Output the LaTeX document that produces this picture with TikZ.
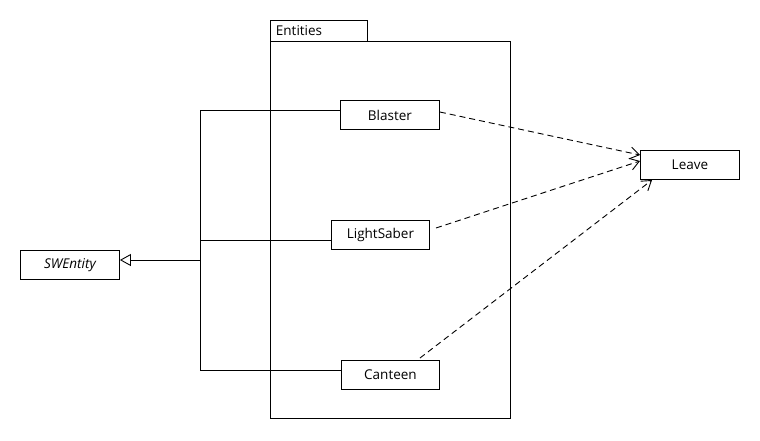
\documentclass[tikz,border=0pt]{standalone}
\usepackage{fontspec}
\setmainfont{Open Sans}
\usetikzlibrary{arrows.meta}
\begin{document}
\begin{tikzpicture}[x=1pt,y=-1pt,
  cls/.style={draw,line width=0.9pt,minimum width=99pt,minimum height=29pt,inner sep=0pt,font=\fontsize{13.5}{15}\selectfont,anchor=north west},
  pkg/.style={draw,line width=0.9pt},
  link/.style={line width=0.9pt},
  dep/.style={line width=0.9pt,dash pattern=on 6pt off 4pt,-{Straight Barb[length=9pt,width=12pt]}}]
\useasboundingbox (0,0) rectangle (760,440);
% package
\draw[pkg] (270,41) rectangle (510,418);
\node[pkg,anchor=north west,minimum width=97pt,minimum height=21pt,inner sep=0pt,font=\fontsize{13.5}{15}\selectfont,text width=92pt,align=left] (tab) at (270,20) {\hspace*{3pt}Entities};
% classes
\node[cls,minimum width=99pt] (sw) at (20,250) {\itshape SWEntity};
\node[cls,minimum width=99pt] (blaster) at (340,100) {Blaster};
\node[cls,minimum width=98pt] (saber) at (331,220) {LightSaber};
\node[cls,minimum width=98pt] (canteen) at (341,360) {Canteen};
\node[cls,minimum width=99pt] (leave) at (640,150) {Leave};
% generalization tree
\coordinate (j) at (200,260);
\coordinate (jt) at (200,110);
\coordinate (jb) at (200,370);
\draw[link] (jt) -- (jb);
\draw[link] (jt) -- (blaster.west |- jt);
\draw[link] (200,240) -- (saber.west |- 0,240);
\draw[link] (jb) -- (canteen.west |- jb);
\draw[link,-{Triangle[open,length=11pt,width=12pt]}] (j) -- (sw.east |- j);
% dependencies
\draw[dep] (blaster.east |- 0,112) -- (leave.west |- 0,155);
\draw[dep] (436,228) -- (leave.west |- 0,161);
\draw[dep] (420,358) -- (652,180);
\end{tikzpicture}
\end{document}
